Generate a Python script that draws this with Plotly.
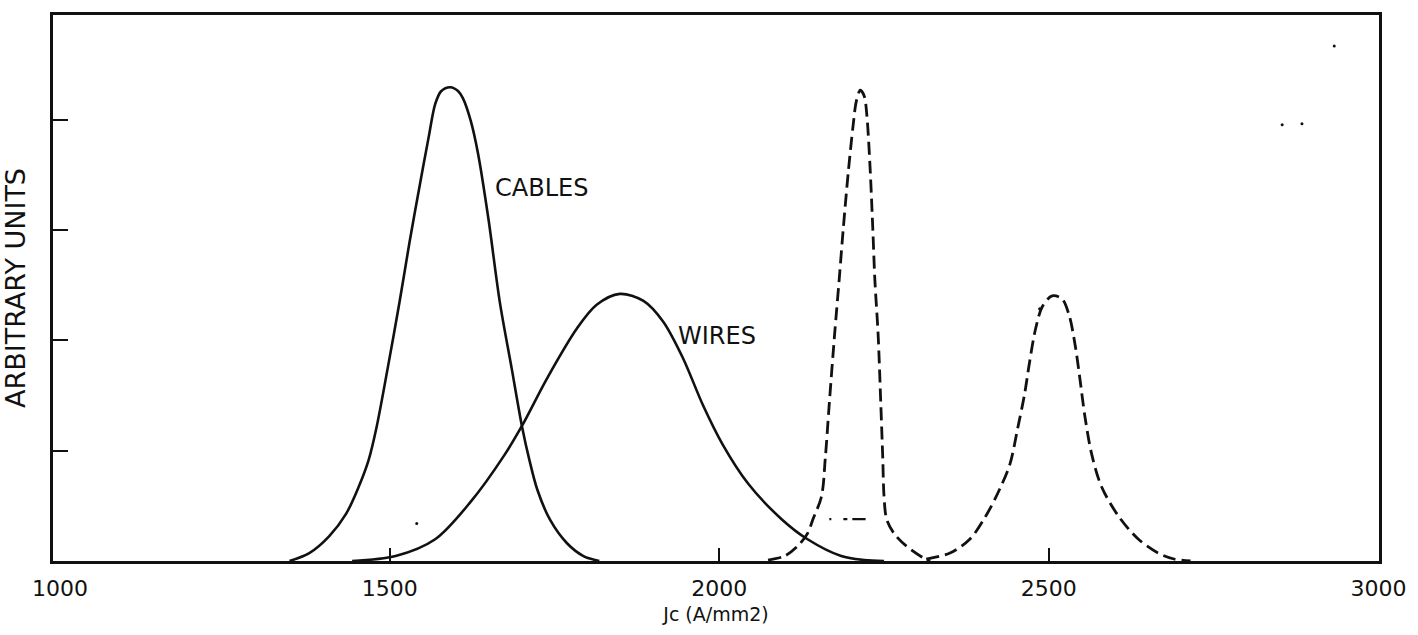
import plotly.graph_objects as go

# ---- data (Jc in A/mm2, arbitrary units) ----
cables_jc = [1348, 1378, 1408, 1434, 1453, 1468, 1480, 1497, 1515, 1530, 1547, 1559, 1569, 1578,
             1592, 1604, 1611, 1623, 1634, 1650, 1667, 1685, 1701, 1712, 1724, 1743, 1769, 1794, 1818]
cables_au = [0, 0.072, 0.224, 0.430, 0.673, 0.915, 1.211, 1.749, 2.350, 2.888, 3.453, 3.839, 4.143, 4.260,
             4.296, 4.260, 4.197, 3.991, 3.695, 3.094, 2.350, 1.749, 1.211, 0.915, 0.646, 0.377, 0.161, 0.045, 0]

wires_jc = [1443, 1509, 1569, 1623, 1674, 1701, 1739, 1784, 1814, 1849, 1885, 1915, 1945,
            1975, 2005, 2044, 2095, 2134, 2185, 2220, 2250]
wires_au = [0, 0.045, 0.197, 0.538, 0.960, 1.229, 1.659, 2.108, 2.323, 2.422, 2.359, 2.170, 1.839,
            1.417, 1.058, 0.700, 0.377, 0.197, 0.045, 0.009, 0]

dash1_jc = [2074, 2099, 2119, 2134, 2142, 2155, 2161, 2167, 2175, 2182, 2188, 2196, 2203, 2208,
            2214, 2220, 2224, 2229, 2233, 2236, 2241, 2245, 2248, 2250, 2254, 2265, 2284, 2310, 2320]
dash1_au = [0.009, 0.045, 0.135, 0.251, 0.377, 0.583, 0.942, 1.435, 2.054, 2.556, 3.004, 3.543, 3.946, 4.170,
            4.269, 4.215, 4.036, 3.543, 3.004, 2.556, 2.054, 1.435, 0.942, 0.583, 0.377, 0.251, 0.135, 0.027, 0]

dash2_jc = [2314, 2350, 2380, 2404, 2425, 2441, 2453, 2463, 2471, 2480, 2490, 2505, 2520,
            2531, 2540, 2547, 2555, 2565, 2580, 2606, 2636, 2666, 2690, 2715]
dash2_au = [0.018, 0.072, 0.197, 0.404, 0.646, 0.879, 1.211, 1.507, 1.812, 2.108, 2.305, 2.404, 2.377,
            2.224, 1.955, 1.659, 1.300, 0.969, 0.673, 0.404, 0.197, 0.072, 0.018, 0]

mark_jc = [2167, 2222]
mark_au = [0.38, 0.38]

speck_jc = [2933, 2854, 2884, 1541, 2486]
speck_au = [4.67, 3.955, 3.964, 0.341, 2.287]

x_tick_vals = [1000, 1500, 2000, 2500, 3000]
x_tick_text = ["1000", "1500", "2000", "2500", "3000"]
x_minor_ticks = [1500, 2000, 2500]
y_ticks = [1, 2, 3, 4]

FONT = "DejaVu Sans"
INK = "#111111"

fig = go.Figure()
spline = dict(shape="spline", smoothing=0.9)
fig.add_trace(go.Scatter(x=cables_jc, y=cables_au, mode="lines", name="CABLES",
                         line=dict(color=INK, width=2.6, **spline)))
fig.add_trace(go.Scatter(x=wires_jc, y=wires_au, mode="lines", name="WIRES",
                         line=dict(color=INK, width=2.6, **spline)))
fig.add_trace(go.Scatter(x=dash1_jc, y=dash1_au, mode="lines",
                         line=dict(color=INK, width=2.8, dash="13px,6px", **spline)))
fig.add_trace(go.Scatter(x=dash2_jc, y=dash2_au, mode="lines",
                         line=dict(color=INK, width=2.8, dash="13px,6px", **spline)))
fig.add_trace(go.Scatter(x=mark_jc, y=mark_au, mode="lines",
                         line=dict(color=INK, width=2.2, dash="2px,12px,4px,5px,16px")))
fig.add_trace(go.Scatter(x=speck_jc, y=speck_au, mode="markers",
                         marker=dict(color=INK, size=3)))

fig.add_annotation(x=1731, y=3.38, text="CABLES", showarrow=False,
                   font=dict(family=FONT, size=24, color=INK))
fig.add_annotation(x=1997, y=2.04, text="WIRES", showarrow=False,
                   font=dict(family=FONT, size=24, color=INK))

fig.update_layout(
    width=1418, height=635,
    margin=dict(l=51, r=28, t=13, b=70),
    paper_bgcolor="white", plot_bgcolor="white",
    showlegend=False,
    font=dict(family=FONT, color=INK),
)
fig.update_xaxes(
    range=[989.2, 3000.9],
    showline=True, linewidth=2.6, linecolor=INK, mirror=True,
    showgrid=False, zeroline=False,
    tickvals=x_tick_vals, ticktext=x_tick_text, ticks="",
    ticklabelstandoff=6,
    tickfont=dict(family=FONT, size=22, color=INK),
    minor=dict(tickvals=x_minor_ticks, ticks="inside", ticklen=13, tickwidth=2, tickcolor=INK),
    title=dict(text="Jc (A/mm2)", font=dict(family=FONT, size=19, color=INK), standoff=8),
)
fig.update_yaxes(
    range=[0, 4.951],
    showline=True, linewidth=2.6, linecolor=INK, mirror=True,
    showgrid=False, zeroline=False,
    tickvals=y_ticks, ticks="inside", ticklen=15, tickwidth=2.2, tickcolor=INK,
    showticklabels=False,
    title=dict(text="ARBITRARY UNITS", font=dict(family=FONT, size=27, color=INK), standoff=22),
)

css = ("var s=document.createElement('style');"
       "s.textContent='html,body{margin:0;padding:0;overflow:hidden;}';"
       "document.head.appendChild(s);")
fig.write_html("out.html", config={"displayModeBar": False}, post_script=css)
